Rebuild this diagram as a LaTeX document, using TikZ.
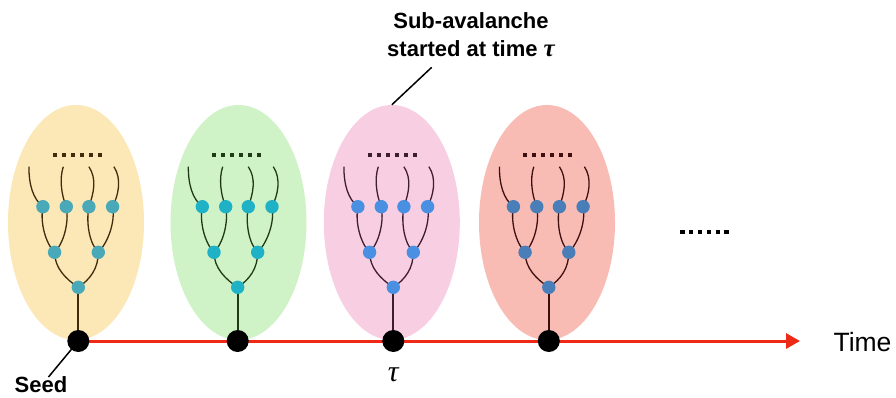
\documentclass[tikz,border=0pt]{standalone}
\usepackage{fontspec}
\setmainfont{Liberation Sans}
\newfontfamily\taufont{Liberation Serif}
\usetikzlibrary{arrows.meta,shapes.geometric}
\pgfdeclarelayer{ell}
\pgfdeclarelayer{lines}
\pgfsetlayers{ell,lines,main}
\definecolor{yel}{HTML}{FBE8B6}
\definecolor{grn}{HTML}{D0F2C7}
\definecolor{pnk}{HTML}{F8CEE3}
\definecolor{sal}{HTML}{F8BCB4}
\definecolor{tna}{HTML}{4AA9B8}
\definecolor{tnb}{HTML}{1FB1C6}
\definecolor{tnc}{HTML}{4A90E2}
\definecolor{tnd}{HTML}{4A7EB8}
\definecolor{tla}{HTML}{3E2C0C}
\definecolor{tlb}{HTML}{1F3A17}
\definecolor{tlc}{HTML}{3D1E2E}
\definecolor{tld}{HTML}{3F0F10}
\definecolor{tred}{HTML}{EE2A16}
\newcommand{\mytau}{{\taufont\itshape τ}}
\begin{document}
\begin{tikzpicture}[x=1pt,y=-1pt,
  treenode/.style={circle, inner sep=0pt, minimum size=13.4pt, fill=#1},
  twig/.style={draw=#1, line width=1.3pt},
  stemline/.style={draw=#1, line width=2.2pt},
  blob/.style={ellipse, inner sep=0pt, minimum width=136pt, minimum height=235pt, fill=#1},
  seeddot/.style={circle, fill=black, inner sep=0pt, minimum size=22pt},
  timeline/.style={draw=tred, line width=3pt, -{Triangle[length=14pt,width=15pt]}},
  pointer/.style={draw=black, line width=1.5pt},
  lbl/.style={font=\bfseries\fontsize{22}{28.5}\selectfont, align=center, inner sep=0pt},
]
\useasboundingbox (0,0) rectangle (896,397);

\foreach \cx/\ex/\fc/\nc/\lc/\id in {78.3/76/yel/tna/tla/A, 237.7/238.5/grn/tnb/tlb/B, 393.3/391.8/pnk/tnc/tlc/C, 548.8/547/sal/tnd/tld/D}{
  \begin{pgfonlayer}{ell}
    \node[blob=\fc] (\id-e) at (\ex,222.5) {};
  \end{pgfonlayer}
  \begin{scope}[shift={(\cx,287.3)}]
    \node[treenode=\nc] (\id-r) at (0,0) {};
    \node[treenode=\nc] (\id-a) at (-23.7,-35) {};
    \node[treenode=\nc] (\id-b) at (20,-35) {};
    \node[treenode=\nc] (\id-c1) at (-35.4,-80.6) {};
    \node[treenode=\nc] (\id-c2) at (-12,-80.6) {};
    \node[treenode=\nc] (\id-c3) at (10.6,-80.6) {};
    \node[treenode=\nc] (\id-c4) at (34.3,-80.6) {};
    \coordinate (\id-t1) at (-49.4,-120.6);
    \coordinate (\id-t2) at (-15,-120.6);
    \coordinate (\id-t3) at (10.6,-120.6);
    \coordinate (\id-t4) at (35.6,-120.6);
    \foreach \k in {0,...,5}
      \fill[\lc] (-23.5+\k*9-1.9,-132-1.9) rectangle +(3.8,3.8);
  \end{scope}
  \node[seeddot] (\id-d) at (\cx,341) {};
  \begin{pgfonlayer}{lines}
    \draw[stemline=\lc] (\id-r.center) -- (\id-d.center);
    \draw[twig=\lc] (\id-r.center) .. controls +(-12,-8) and +(0,16) .. (\id-a.center);
    \draw[twig=\lc] (\id-r.center) .. controls +(12,-8) and +(0,16) .. (\id-b.center);
    \draw[twig=\lc] (\id-a.center) .. controls +(-9,-9) and +(-3,16) .. (\id-c1.center);
    \draw[twig=\lc] (\id-a.center) .. controls +(9,-9) and +(3,16) .. (\id-c2.center);
    \draw[twig=\lc] (\id-b.center) .. controls +(-9,-9) and +(-3,16) .. (\id-c3.center);
    \draw[twig=\lc] (\id-b.center) .. controls +(9,-9) and +(3,16) .. (\id-c4.center);
    \draw[twig=\lc] (\id-c1.center) .. controls +(-10,-8) and +(0,18) .. (\id-t1);
    \draw[twig=\lc] (\id-c2.center) .. controls +(-5,-12) and +(-4,12) .. (\id-t2);
    \draw[twig=\lc] (\id-c3.center) .. controls +(5,-14) and +(8,12) .. (\id-t3);
    \draw[twig=\lc] (\id-c4.center) .. controls +(6,-12) and +(8,12) .. (\id-t4);
  \end{pgfonlayer}
}

\coordinate (tend) at (800,341);
\begin{pgfonlayer}{lines}
  \draw[timeline] (A-d.center) -- (tend);
  \coordinate (seedtip) at (48.5,377);
  \draw[pointer] (A-d.center) -- (seedtip);
\end{pgfonlayer}

\node[lbl, anchor=base] (seed) at (41,392.5) {Seed};
\node[font=\fontsize{26.5}{30}\selectfont, anchor=base, inner sep=0pt] (time) at (862.5,351.7) {Time};
\node[font=\fontsize{30}{30}\selectfont, inner sep=0pt] (tau) at (393.3,375) {\mytau};

\node[lbl, anchor=base] (sub) at (471,56.5) {Sub-avalanche\\started at time {\fontsize{25}{28}\selectfont\mytau}};
\coordinate (subtip) at (431.7,67.3);
\draw[pointer] (subtip) -- (C-e.north);

\foreach \k in {0,...,5}
  \fill[black] (682.5+\k*8.8-2.15,232.3-2.15) rectangle +(4.3,4.3);
\end{tikzpicture}
\end{document}
